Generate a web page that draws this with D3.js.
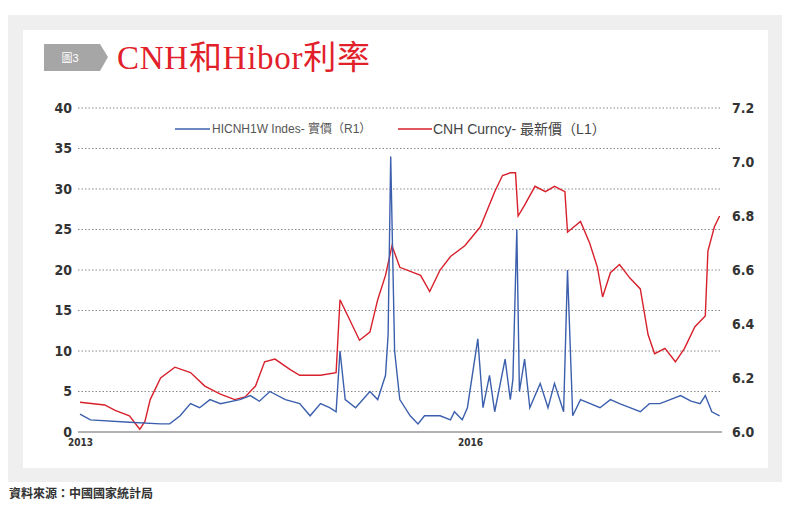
<!DOCTYPE html><html><head><meta charset="utf-8"><script src="https://cdn.jsdelivr.net/npm/d3@7"></script>
<style>body{margin:0;background:#fff}svg{font-family:"Liberation Sans","Noto Sans CJK TC",sans-serif}</style></head><body><svg width="800" height="523"></svg>
<script>
const leftTicks=[0,5,10,15,20,25,30,35,40];
const rightTicks=[6.0,6.2,6.4,6.6,6.8,7.0,7.2];
const xTickYears=[2013,2016];
const hiborYears=[2013.00,2013.08,2013.38,2013.62,2013.69,2013.77,2013.85,2013.92,2014.00,2014.08,2014.23,2014.31,2014.38,2014.46,2014.58,2014.69,2014.77,2014.85,2014.92,2014.97,2015.00,2015.04,2015.12,2015.23,2015.29,2015.35,2015.37,2015.39,2015.42,2015.46,2015.54,2015.60,2015.65,2015.77,2015.85,2015.88,2015.94,2015.98,2016.06,2016.10,2016.15,2016.19,2016.27,2016.31,2016.33,2016.36,2016.38,2016.42,2016.46,2016.54,2016.60,2016.65,2016.72,2016.75,2016.79,2016.85,2017.00,2017.08,2017.15,2017.23,2017.31,2017.38,2017.46,2017.54,2017.62,2017.70,2017.77,2017.81,2017.86,2017.92];
const hiborValues=[2.2,1.5,1.2,1.0,1.0,2.0,3.5,3.0,4.0,3.5,4.0,4.5,3.8,5.0,4.0,3.5,2.0,3.5,3.0,2.5,10,4,3,5,4,7,12,34,10,4,2,1,2,2,1.5,2.5,1.5,3,11.5,3,7,2.5,9,4,6.5,25,5,9,3,6,3,6,2.5,20,2,4,3,4,3.5,3,2.5,3.5,3.5,4,4.5,3.8,3.5,4.5,2.5,2.0];
const cnhYears=[2013.00,2013.19,2013.27,2013.38,2013.46,2013.50,2013.54,2013.62,2013.73,2013.85,2013.96,2014.08,2014.19,2014.27,2014.35,2014.42,2014.50,2014.62,2014.69,2014.85,2014.97,2015.00,2015.08,2015.15,2015.23,2015.29,2015.35,2015.40,2015.46,2015.62,2015.69,2015.77,2015.85,2015.96,2016.08,2016.19,2016.25,2016.31,2016.35,2016.37,2016.42,2016.50,2016.58,2016.65,2016.73,2016.75,2016.85,2016.92,2016.98,2017.02,2017.08,2017.15,2017.23,2017.31,2017.37,2017.42,2017.50,2017.58,2017.65,2017.73,2017.81,2017.83,2017.88,2017.92];
const cnhValues=[6.11,6.10,6.08,6.06,6.01,6.04,6.12,6.20,6.24,6.22,6.17,6.14,6.12,6.13,6.17,6.26,6.27,6.23,6.21,6.21,6.22,6.49,6.41,6.34,6.37,6.49,6.58,6.69,6.61,6.58,6.52,6.60,6.65,6.69,6.76,6.89,6.95,6.96,6.96,6.80,6.84,6.91,6.89,6.91,6.89,6.74,6.78,6.70,6.61,6.50,6.59,6.62,6.57,6.53,6.36,6.29,6.31,6.26,6.31,6.39,6.43,6.67,6.76,6.80];

const svg=d3.select("svg");
svg.append("rect").attr("x",8).attr("y",15).attr("width",774).attr("height",467).attr("fill","#efefef");
svg.append("rect").attr("x",23).attr("y",30).attr("width",745).attr("height",438).attr("fill","#fff");
svg.append("path").attr("d","M44,44H100L108,57L100,71H44Z").attr("fill","#a6a6a6");
svg.append("text").attr("x",70).attr("y",62).attr("fill","#fff").attr("font-size",11).attr("text-anchor","middle").text("圖3");
svg.append("text").attr("x",117).attr("y",69).attr("fill","#e2202a").attr("font-size",33).attr("textLength",253).attr("font-family","'Liberation Serif','Noto Sans CJK TC',serif").text("CNH和Hibor利率");

const x=d3.scaleLinear().domain([2013,2017.923]).range([80,720]);
const yL=d3.scaleLinear().domain([0,40]).range([432,108]);
const yR=d3.scaleLinear().domain([6.0,7.2]).range([432,108]);

const g=svg.append("g");
leftTicks.slice(1).forEach(t=>g.append("line").attr("x1",78).attr("x2",722).attr("y1",yL(t)).attr("y2",yL(t)).attr("stroke","#888").attr("stroke-dasharray","1.5,2"));
g.append("line").attr("x1",78).attr("x2",722).attr("y1",yL(0)).attr("y2",yL(0)).attr("stroke","#999").attr("stroke-width",1.5);

const axL=svg.append("g").attr("transform","translate(72,0)").call(d3.axisLeft(yL).tickValues(leftTicks).tickSize(0).tickPadding(0));
const axR=svg.append("g").attr("transform","translate(732,0)").call(d3.axisRight(yR).tickValues(rightTicks).tickSize(0).tickPadding(0).tickFormat(d3.format(".1f")));
const axX=svg.append("g").attr("transform","translate(0,437)").call(d3.axisBottom(x).tickValues(xTickYears).tickSize(0).tickPadding(0).tickFormat(d3.format("d")));
[axL,axR,axX].forEach(a=>{a.select(".domain").remove();a.selectAll("text").attr("fill","#333").attr("font-weight","bold").attr("font-family","'DejaVu Sans Condensed','Liberation Sans Narrow',sans-serif");});
axL.selectAll("text").attr("font-size",14);
axR.selectAll("text").attr("font-size",14);
axX.selectAll("text").attr("font-size",10).attr("dy","0.9em");

const cnh=cnhYears.map((d,i)=>[d,cnhValues[i]]);
const hib=hiborYears.map((d,i)=>[d,hiborValues[i]]);
svg.append("path").datum(cnh).attr("fill","none").attr("stroke","#d7202b").attr("stroke-width",1.4).attr("d",d3.line().x(d=>x(d[0])).y(d=>yR(d[1])));
svg.append("path").datum(hib).attr("fill","none").attr("stroke","#3b5fad").attr("stroke-width",1.4).attr("d",d3.line().x(d=>x(d[0])).y(d=>yL(d[1])));

const lg=svg.append("g").attr("font-size",12).attr("fill","#444");
lg.append("line").attr("x1",175).attr("x2",210).attr("y1",129).attr("y2",129).attr("stroke","#3b5fad").attr("stroke-width",1.5);
lg.append("text").attr("x",212).attr("y",133).attr("fill","#555").text("HICNH1W Indes- 實價（R1）");
lg.append("line").attr("x1",398).attr("x2",432).attr("y1",129).attr("y2",129).attr("stroke","#d7202b").attr("stroke-width",1.5);
lg.append("text").attr("x",433).attr("y",134).attr("fill","#444").attr("font-size",14).text("CNH Curncy- 最新價（L1）");

svg.append("text").attr("x",9).attr("y",498).attr("font-size",12).attr("font-weight","bold").attr("fill","#333").text("資料來源：中國國家統計局");
</script></body></html>
